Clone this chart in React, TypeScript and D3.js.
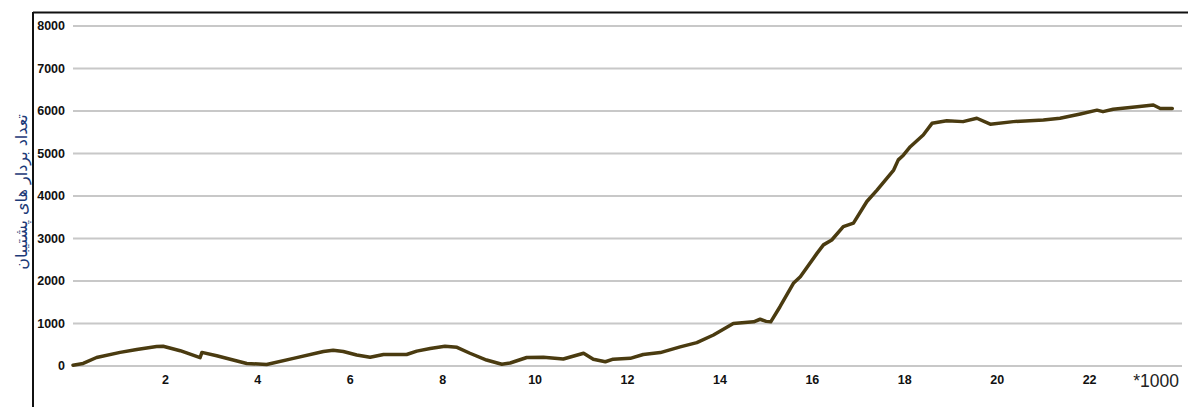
import React from "react";
import * as d3 from "d3";

// Sample index in thousands (x) and number of support vectors (y)
const samplesK: number[] = [
  0.0, 0.22, 0.51, 1.02, 1.38, 1.81, 1.95, 2.32, 2.75, 2.79, 3.11, 3.76, 4.19,
  4.77, 5.42, 5.63, 5.85, 6.14, 6.43, 6.72, 7.22, 7.44, 7.73, 8.05, 8.31, 8.59,
  8.95, 9.28, 9.46, 9.82, 10.18, 10.61, 11.05, 11.26, 11.52, 11.69, 12.06,
  12.34, 12.71, 13.14, 13.5, 13.86, 14.29, 14.73, 14.87, 15.0, 15.1, 15.3,
  15.59, 15.74, 16.1, 16.24, 16.42, 16.67, 16.89, 17.18, 17.4, 17.76, 17.86,
  17.97, 18.12, 18.4, 18.59, 18.91, 19.26, 19.56, 19.85, 20.35, 21.0, 21.36,
  21.8, 22.16, 22.29, 22.51, 23.03, 23.38, 23.53, 23.79,
];
const supportVectors: number[] = [
  20, 60, 200, 320, 390, 460, 465, 360, 195, 320, 240, 60, 35, 180, 340, 370,
  340, 260, 205, 270, 270, 350, 410, 465, 440, 300, 140, 40, 70, 200, 205, 165,
  300, 160, 100, 160, 180, 270, 315, 450, 550, 730, 1000, 1040, 1100, 1050,
  1040, 1395, 1945, 2100, 2650, 2850, 2965, 3280, 3360, 3870, 4140, 4610, 4850,
  4960, 5160, 5435, 5710, 5770, 5750, 5830, 5690, 5750, 5790, 5830, 5930, 6020,
  5985, 6040, 6100, 6140, 6060, 6060,
];
const yTicks: number[] = [0, 1000, 2000, 3000, 4000, 5000, 6000, 7000, 8000];
const xTicks: number[] = [2, 4, 6, 8, 10, 12, 14, 16, 18, 20, 22];
const yTitle = "تعداد بردار های پشتیبان";
const xUnit = "*1000";

const W = 1188;
const H = 407;

export default function App() {
  const x = d3.scaleLinear().domain([0, 24]).range([73, 1182]);
  const y = d3.scaleLinear().domain([0, 8000]).range([366, 26]);

  const points: [number, number][] = samplesK.map((k, i) => [k, supportVectors[i]]);
  const line = d3
    .line<[number, number]>()
    .x((d) => x(d[0]))
    .y((d) => y(d[1]));

  const tickFont = "Arial, 'Liberation Sans', sans-serif";

  return (
    <svg
      width={W}
      height={H}
      style={{ position: "absolute", left: 0, top: 0, background: "#fff" }}
    >
      {/* frame */}
      <line x1={33} y1={12.5} x2={W} y2={12.5} stroke="#111" strokeWidth={2} />
      <line x1={33} y1={12} x2={33} y2={H} stroke="#111" strokeWidth={2} />

      {/* horizontal grid */}
      {yTicks.map((t) => (
        <line
          key={"g" + t}
          x1={x(0)}
          x2={x(24)}
          y1={y(t)}
          y2={y(t)}
          stroke="#c8c8c8"
          strokeWidth={2}
        />
      ))}

      {/* y tick labels */}
      {yTicks.map((t) => (
        <text
          key={"yl" + t}
          x={65}
          y={y(t)}
          dy="0.35em"
          textAnchor="end"
          fontFamily={tickFont}
          fontWeight="bold"
          fontSize={12.5}
          fill="#111"
        >
          {t}
        </text>
      ))}

      {/* x tick labels */}
      {xTicks.map((t) => (
        <text
          key={"xl" + t}
          x={x(t)}
          y={384}
          textAnchor="middle"
          fontFamily={tickFont}
          fontWeight="bold"
          fontSize={12.5}
          fill="#111"
        >
          {t}
        </text>
      ))}
      <text
        x={1179}
        y={387}
        textAnchor="end"
        fontFamily={tickFont}
        fontSize={17.5}
        fill="#222"
      >
        {xUnit}
      </text>

      {/* y axis title */}
      <text
        transform={`translate(21, 192) rotate(-90)`}
        textAnchor="middle"
        dominantBaseline="central"
        fontFamily="'DejaVu Sans', sans-serif"
        fontSize={16}
        fill="#1d3a78"
      >
        {yTitle}
      </text>

      {/* series */}
      <path
        d={line(points) ?? ""}
        fill="none"
        stroke="#4a3b10"
        strokeWidth={3.5}
        strokeLinejoin="round"
        strokeLinecap="round"
      />
    </svg>
  );
}
